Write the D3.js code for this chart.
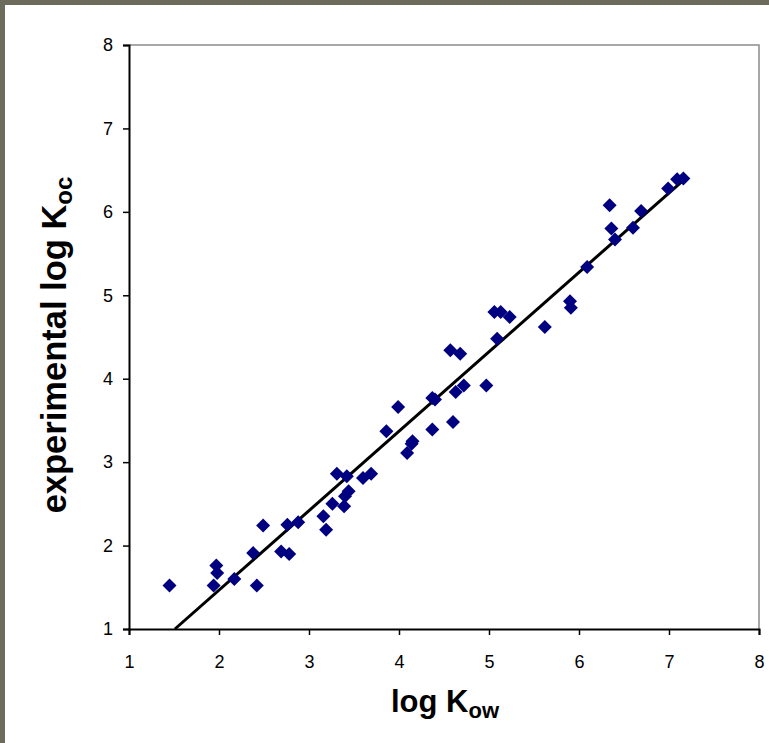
<!DOCTYPE html>
<html>
<head>
<meta charset="utf-8">
<script src="https://cdn.jsdelivr.net/npm/d3@7"></script>
<style>
  html, body { margin: 0; padding: 0; background: #6d6b5b; }
  svg { display: block; }
  text { font-family: Arial, "Liberation Sans", sans-serif; }
</style>
</head>
<body>
<div id="chart"></div>
<script>
// log Kow of each compound
var logKow = [1.45, 1.97, 1.98, 1.94, 2.17, 2.38, 2.42, 2.49, 2.69, 2.78, 2.76, 2.88,
  3.16, 3.19, 3.26, 3.31, 3.39, 3.40, 3.44, 3.42, 3.60, 3.69, 3.86, 3.99, 4.09, 4.14,
  4.15, 4.37, 4.37, 4.40, 4.60, 4.63, 4.72, 4.57, 4.68, 4.97, 5.09, 5.06, 5.13, 5.23,
  5.62, 5.90, 5.91, 6.09, 6.34, 6.36, 6.40, 6.60, 6.69, 6.99, 7.09, 7.16];
// experimental log Koc
var logKoc = [1.52, 1.76, 1.67, 1.52, 1.60, 1.91, 1.52, 2.24, 1.93, 1.90, 2.25, 2.28,
  2.35, 2.19, 2.50, 2.86, 2.47, 2.59, 2.65, 2.83, 2.81, 2.86, 3.37, 3.66, 3.11, 3.22,
  3.25, 3.39, 3.77, 3.75, 3.48, 3.84, 3.92, 4.34, 4.30, 3.92, 4.48, 4.80, 4.80, 4.74,
  4.62, 4.93, 4.85, 5.34, 6.08, 5.80, 5.67, 5.81, 6.01, 6.28, 6.39, 6.40];
// fitted line end points
var fitX = [1.51, 7.14];
var fitY = [1.00, 6.36];
var xTicks = [1, 2, 3, 4, 5, 6, 7, 8];
var yTicks = [1, 2, 3, 4, 5, 6, 7, 8];

var W = 769, H = 743;
var svg = d3.select('#chart').append('svg').attr('width', W).attr('height', H);

// white panel inside the gray frame
svg.append('rect').attr('x', 5).attr('y', 5).attr('width', W - 5).attr('height', H - 5)
  .attr('fill', '#ffffff');

var x = d3.scaleLinear().domain([1, 8]).range([129, 759]);
var y = d3.scaleLinear().domain([1, 8]).range([629, 45]);

// plot frame (top/right gray)
svg.append('path')
  .attr('d', 'M' + x(1) + ',' + y(8) + 'H' + x(8) + 'V' + y(1))
  .attr('fill', 'none').attr('stroke', '#8c8c8c').attr('stroke-width', 1.5);

// axes
var xAxis = svg.append('g').attr('transform', 'translate(0,' + y(1) + ')')
  .call(d3.axisBottom(x).tickValues(xTicks).tickSize(6).tickPadding(20).tickFormat(d3.format('d')));
var yAxis = svg.append('g').attr('transform', 'translate(' + x(1) + ',0)')
  .call(d3.axisLeft(y).tickValues(yTicks).tickSize(6).tickPadding(10).tickFormat(d3.format('d')));
[xAxis, yAxis].forEach(function(a){
  a.select('.domain').attr('stroke', '#000').attr('stroke-width', 2);
  a.selectAll('.tick line').attr('stroke', '#000').attr('stroke-width', 1.5);
  a.selectAll('.tick text').attr('font-size', 18).attr('fill', '#000')
    .style('font-family', 'Arial, "Liberation Sans", sans-serif');
});
xAxis.selectAll('.tick text').attr('dy', '0.71em');

// regression line
svg.append('line')
  .attr('x1', x(fitX[0])).attr('y1', y(fitY[0]))
  .attr('x2', x(fitX[1])).attr('y2', y(fitY[1]))
  .attr('stroke', '#000').attr('stroke-width', 3);

// diamonds
var r = 7;
svg.append('g').selectAll('path')
  .data(logKow)
  .enter()
  .append('path')
  .attr('d', function(d, i){
    var cx = x(d), cy = y(logKoc[i]);
    return 'M' + cx + ',' + (cy - r) + 'L' + (cx + r) + ',' + cy +
           'L' + cx + ',' + (cy + r) + 'L' + (cx - r) + ',' + cy + 'Z';
  })
  .attr('fill', '#000080');

// axis titles
var xt = svg.append('text')
  .attr('x', 445).attr('y', 712)
  .attr('text-anchor', 'middle')
  .attr('font-size', 31).attr('font-weight', 'bold');
xt.append('tspan').text('log K');
xt.append('tspan').attr('font-size', 22).attr('dy', 6).text('ow');

var yt = svg.append('text')
  .attr('transform', 'translate(66,345) rotate(-90)')
  .attr('text-anchor', 'middle')
  .attr('font-size', 34.5).attr('font-weight', 'bold');
yt.append('tspan').text('experimental log K');
yt.append('tspan').attr('font-size', 24).attr('dy', 6).text('oc');
</script>
</body>
</html>
